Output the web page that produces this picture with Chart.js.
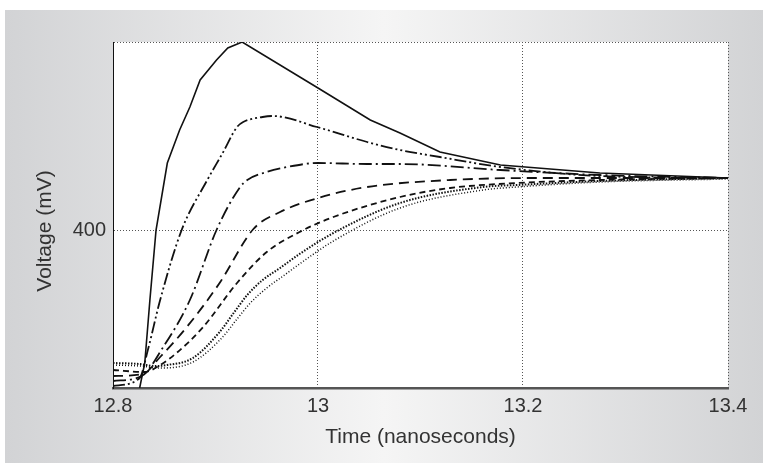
<!DOCTYPE html>
<html>
<head>
<meta charset="utf-8">
<script src="https://cdn.jsdelivr.net/npm/chart.js@4"></script>
<style>
  html, body { margin: 0; padding: 0; background: #fff; }
  #wrap { width: 768px; height: 471px; }
</style>
</head>
<body>
<div id="wrap"><canvas id="chart" width="768" height="471"></canvas></div>
<script>
// time (ns) / voltage (mV) pairs
const curveSolid = [[12.826,242],[12.831,267],[12.836,330],[12.842,400],[12.853,467],[12.865,500],[12.875,523],[12.885,550],[12.901,570],[12.912,582],[12.926,588],[13.0,542],[13.051,510],[13.080,497],[13.119,478],[13.178,465],[13.275,457],[13.4,452]];
const curveDashDotDot = [[12.8,244],[12.826,252],[12.834,280],[12.846,330],[12.867,400],[12.892,450],[12.907,477],[12.921,503],[12.927,508],[12.946,513],[12.956,514],[12.999,503],[13.048,488],[13.080,480],[13.119,473],[13.178,463],[13.275,454],[13.4,452]];
const curveDashDot = [[12.8,249],[12.828,254],[12.849,283],[12.875,330],[12.901,400],[12.924,443],[12.931,450],[12.950,458],[12.970,463],[13.0,467],[13.048,466],[13.080,466],[13.178,460],[13.275,455],[13.4,452]];
const curveLongDash = [[12.8,254],[12.829,256],[12.846,273],[12.872,303],[12.904,347],[12.937,401],[12.963,418],[13.0,432],[13.048,443],[13.129,450],[13.210,452],[13.4,452]];
const curveDash = [[12.8,260],[12.831,258],[12.846,265],[12.862,277],[12.888,303],[12.921,347],[12.950,378],[12.982,398],[13.015,413],[13.080,433],[13.129,442],[13.194,447],[13.275,450],[13.4,452]];
const curveDots = [[12.8,267],[12.826,266],[12.841,264],[12.853,265],[12.878,272],[12.904,298],[12.917,316],[12.931,335],[12.946,350],[12.963,362],[12.982,376],[13.015,397],[13.080,427],[13.161,443],[13.194,445],[13.275,449],[13.4,452]];
const curveFineDots = [[12.8,265],[12.826,264],[12.846,262],[12.878,268],[12.907,293],[12.921,311],[12.934,327],[12.950,342],[12.966,354],[12.982,366],[13.015,389],[13.080,422],[13.161,440],[13.194,443],[13.275,448],[13.4,451]];

const xTicks = [12.8, 13, 13.2, 13.4];
const yTicks = [242, 400, 588];
const yLabels = ['', '400', ''];

const font = "'Liberation Sans', Arial, sans-serif";

function toPts(arr) {
  return arr.map(p => ({ x: p[0], y: p[1] }));
}
function line(arr, width, dash, smooth) {
  return {
    data: toPts(arr),
    borderColor: '#111',
    borderWidth: width,
    borderDash: dash,
    pointRadius: 0,
    fill: false,
    cubicInterpolationMode: smooth ? 'monotone' : 'default',
    tension: 0
  };
}

// grey gradient frame and white plot area, plus rotated y title
const backdrop = {
  id: 'backdrop',
  beforeDraw(chart) {
    const ctx = chart.ctx, a = chart.chartArea;
    ctx.save();
    ctx.fillStyle = '#fff';
    ctx.fillRect(0, 0, chart.width, chart.height);
    const g = ctx.createLinearGradient(5, 0, 763, 0);
    g.addColorStop(0, '#d2d3d5');
    g.addColorStop(0.5, '#f5f5f5');
    g.addColorStop(1, '#d2d3d5');
    ctx.fillStyle = g;
    ctx.fillRect(5, 10, 758, 453);
    ctx.fillStyle = '#fff';
    ctx.fillRect(a.left, a.top, a.right - a.left, a.bottom - a.top);
    ctx.restore();
  },
  afterDraw(chart) {
    const ctx = chart.ctx;
    ctx.save();
    ctx.translate(45, 231);
    ctx.rotate(-Math.PI / 2);
    ctx.fillStyle = '#333';
    ctx.font = '21px ' + font;
    ctx.textAlign = 'center';
    ctx.textBaseline = 'middle';
    ctx.fillText('Voltage (mV)', 0, 0);
    ctx.restore();
  }
};

new Chart(document.getElementById('chart'), {
  type: 'line',
  data: {
    datasets: [
      line(curveSolid, 1.6, [], false),
      line(curveDashDotDot, 1.8, [12, 3, 2, 3, 2, 3], true),
      line(curveDashDot, 1.8, [13, 4, 2, 4], true),
      line(curveLongDash, 1.8, [10, 6], true),
      line(curveDash, 1.8, [6, 4], true),
      line(curveDots, 2, [1.5, 1.5], true),
      line(curveFineDots, 1.5, [1, 2], true)
    ]
  },
  options: {
    responsive: false,
    animation: false,
    layout: { padding: { left: 0, top: 42, right: 40, bottom: 0 } },
    plugins: { legend: { display: false }, tooltip: { enabled: false } },
    scales: {
      x: {
        type: 'linear',
        min: 12.8,
        max: 13.4,
        afterBuildTicks: s => { s.ticks = xTicks.map(v => ({ value: v })); },
        afterFit: s => { s.height = 83; },
        ticks: {
          color: '#333',
          font: { family: font, size: 20 },
          padding: 6,
          maxRotation: 0,
          callback: v => String(v)
        },
        grid: { color: '#555', drawTicks: false, lineWidth: 1 },
        border: { display: true, color: '#555', width: 2.5, dash: [1, 2] },
        title: {
          display: true,
          text: 'Time (nanoseconds)',
          color: '#333',
          font: { family: font, size: 21 },
          padding: { top: 0, bottom: 21 }
        }
      },
      y: {
        type: 'linear',
        min: 242,
        max: 588,
        afterBuildTicks: s => { s.ticks = yTicks.map(v => ({ value: v })); },
        afterFit: s => { s.width = 113; },
        ticks: {
          color: '#333',
          font: { family: font, size: 20 },
          padding: 7,
          callback: (v, i) => yLabels[i]
        },
        grid: {
          color: ctx => ctx.tick && ctx.tick.value === 242 ? 'rgba(0,0,0,0)' : '#555',
          drawTicks: false,
          lineWidth: 1
        },
        border: { display: true, color: '#111', width: 1, dash: [1, 2] }
      }
    }
  },
  plugins: [backdrop]
});
</script>
</body>
</html>
